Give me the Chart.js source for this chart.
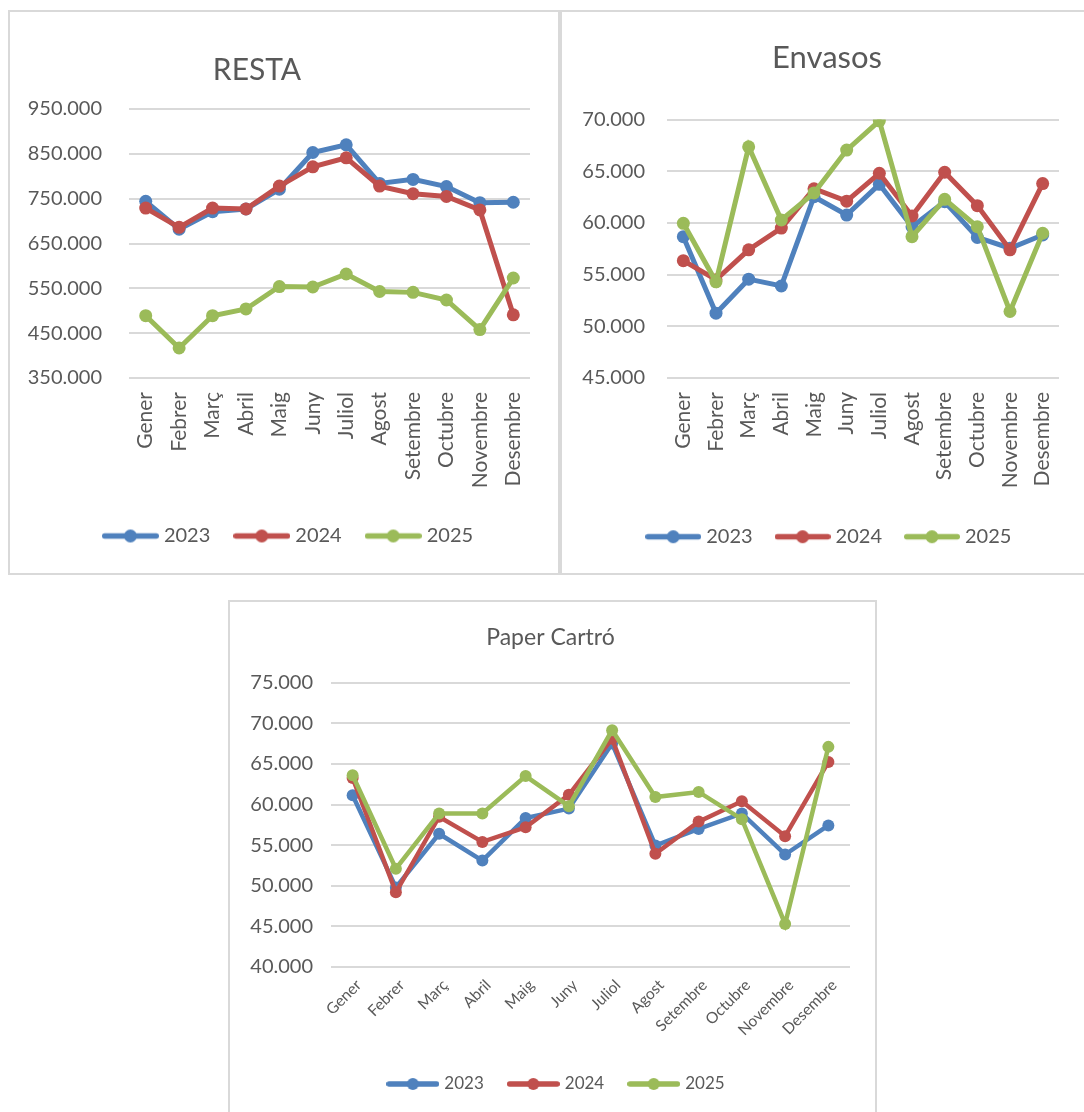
<!DOCTYPE html>
<html><head><meta charset="utf-8">
<script src="https://cdn.jsdelivr.net/npm/chart.js@4.4.1/dist/chart.umd.min.js"></script>
<style>
html,body{margin:0;padding:0;background:#fff;overflow:hidden;width:1084px;height:1112px;}
.panel{position:absolute;border:2px solid #d9d9d9;box-sizing:border-box;}
canvas{position:absolute;}
</style></head><body>
<div class="panel" style="left:8px;top:10px;width:552px;height:565px"></div>
<div class="panel" style="left:560px;top:10px;width:540px;height:565px"></div>
<div class="panel" style="left:228px;top:600px;width:649px;height:530px"></div>
<canvas id="c1" width="552" height="565" style="left:8px;top:10px"></canvas>
<canvas id="c2" width="524" height="565" style="left:560px;top:10px"></canvas>
<canvas id="c3" width="649" height="512" style="left:228px;top:600px"></canvas>
<script>
// ---- data ----
const months = ['Gener','Febrer','Març','Abril','Maig','Juny','Juliol','Agost','Setembre','Octubre','Novembre','Desembre'];
const years = ['2023','2024','2025'];
const colors = ['#4F81BD','#C0504D','#9BBB59'];

const resta2023 = [744000,682000,721000,727000,771000,853000,870000,784000,793000,777000,741000,742000];
const resta2024 = [729000,686000,729000,727000,778000,821000,841000,778000,761000,755000,725000,491000];
const resta2025 = [489000,417000,489000,504000,554000,553000,582000,543000,541000,524000,458000,573000];

const envasos2023 = [58670,51270,54560,53900,62530,60760,63730,59630,62050,58600,57550,58830];
const envasos2024 = [56350,54500,57400,59500,63300,62100,64800,60670,64900,61670,57400,63800];
const envasos2025 = [59960,54300,67360,60280,62900,67040,69870,58670,62280,59630,51430,59000];

const paper2023 = [61140,49800,56400,53100,58330,59500,67500,54960,57000,58900,53850,57430];
const paper2024 = [63270,49200,58500,55400,57200,61200,68100,53940,57900,60400,56100,65250];
const paper2025 = [63600,52100,58900,58900,63500,59800,69160,60930,61550,58200,45300,67100];

// ---- helpers ----
Chart.defaults.font.family = 'Lato, "Open Sans", sans-serif';
Chart.defaults.color = '#595959';
const fmt = v => String(v).replace(/\B(?=(\d{3})+(?!\d))/g, '.');

function icon(color, w, lw, r) {
  const c = document.createElement('canvas');
  c.width = w; c.height = Math.ceil(2 * r + 2);
  const x = c.getContext('2d');
  x.strokeStyle = color; x.lineWidth = lw; x.lineCap = 'round';
  x.beginPath(); x.moveTo(lw / 2, c.height / 2); x.lineTo(w - lw / 2, c.height / 2); x.stroke();
  x.fillStyle = color; x.beginPath(); x.arc(w / 2, c.height / 2, r, 0, Math.PI * 2); x.fill();
  return c;
}

const centerBoxes = {
  id: 'centerBoxes',
  afterLayout(chart, args, opts) {
    const shift = (box, cx) => { if (!box || cx == null) return; const w = box.right - box.left; box.left = cx - w / 2; box.right = cx + w / 2; };
    shift(chart.titleBlock, opts.titleX);
    shift(chart.legend, opts.legendX);
  }
};

function makeChart(id, s, series) {
  const icons = colors.map(c => icon(c, s.iconW, s.iconLine, s.iconR));
  return new Chart(document.getElementById(id), {
    type: 'line',
    data: {
      labels: months,
      datasets: series.map((d, i) => ({
        label: years[i], data: d, borderColor: colors[i], backgroundColor: colors[i],
        pointBackgroundColor: colors[i], pointBorderWidth: 0, pointRadius: s.pointR,
        borderWidth: s.lineW, tension: 0, order: 3 - i
      }))
    },
    plugins: [centerBoxes],
    options: {
      responsive: false, animation: false, devicePixelRatio: 1,
      layout: { padding: { left: 0, top: 0, right: s.padRight, bottom: s.padBottom } },
      scales: {
        x: {
          offset: true,
          grid: { display: false, drawTicks: false },
          border: { display: false },
          ticks: { autoSkip: false, minRotation: s.rot, maxRotation: s.rot, padding: s.xPad, labelOffset: s.xShift || 0, color: '#595959', font: { size: s.xFont } },
          afterFit(sc) { sc.height = s.xHeight; sc.paddingLeft = 0; sc.paddingRight = 0; }
        },
        y: {
          min: s.min, max: s.max,
          grid: { color: '#d9d9d9', lineWidth: 2, drawTicks: false },
          border: { display: false },
          ticks: { stepSize: s.step, padding: s.yPad, color: '#595959', font: { size: s.yFont }, callback: v => fmt(v) },
          afterFit(sc) { sc.width = s.yWidth; sc.paddingTop = 0; sc.paddingBottom = 0; }
        }
      },
      plugins: {
        tooltip: { enabled: false },
        centerBoxes: { titleX: s.titleX, legendX: s.legendX },
        title: {
          display: true, text: s.title, color: '#595959',
          font: { size: s.titleSize, weight: 'normal' },
          padding: { top: s.titleTop, bottom: s.titleBottom }
        },
        legend: {
          position: 'bottom',
          labels: {
            usePointStyle: true, pointStyleWidth: s.iconBox, padding: s.legendPad,
            color: '#595959', font: { size: s.legendFont },
            sort: (a, b) => a.datasetIndex - b.datasetIndex,
            generateLabels(chart) {
              const items = Chart.defaults.plugins.legend.labels.generateLabels(chart);
              items.forEach(it => { it.pointStyle = icons[it.datasetIndex]; });
              return items;
            }
          }
        }
      }
    }
  });
}

makeChart('c1', {
  title: 'RESTA', titleSize: 30, titleTop: 42, titleBottom: 21, titleX: 249,
  min: 350000, max: 950000, step: 100000,
  yWidth: 121, yPad: 27, yFont: 20, padRight: 30,
  xHeight: 120, xFont: 21, rot: 90, xPad: 14,
  legendFont: 20, legendPad: 28, padBottom: 19, legendX: 282,
  iconW: 57, iconBox: 47, iconLine: 5.5, iconR: 6.5,
  pointR: 6.5, lineW: 5
}, [resta2023, resta2024, resta2025]);

makeChart('c2', {
  title: 'Envasos', titleSize: 31, titleTop: 29.2, titleBottom: 43.1, titleX: 267,
  min: 45000, max: 70000, step: 5000,
  yWidth: 107, yPad: 22, yFont: 20, padRight: 25,
  xHeight: 121.7, xFont: 21, rot: 90, xPad: 14,
  legendFont: 20, legendPad: 27, padBottom: 18.3, legendX: 270.8,
  iconW: 56, iconBox: 46, iconLine: 5.5, iconR: 6.5,
  pointR: 6.5, lineW: 5
}, [envasos2023, envasos2024, envasos2025]);

makeChart('c3', {
  title: 'Paper Cartró', titleSize: 23, titleTop: 24.2, titleBottom: 30.9, titleX: 322.5,
  min: 40000, max: 75000, step: 5000,
  yWidth: 103, yPad: 18, yFont: 20, padRight: 27,
  xHeight: 82, xFont: 15.5, rot: 45, xPad: 9, xShift: 6,
  legendFont: 17, legendPad: 26.5, padBottom: 9.5, legendX: 329.25,
  iconW: 53, iconBox: 46, iconLine: 5.5, iconR: 6,
  pointR: 6, lineW: 4.5
}, [paper2023, paper2024, paper2025]);
</script>
</body></html>
